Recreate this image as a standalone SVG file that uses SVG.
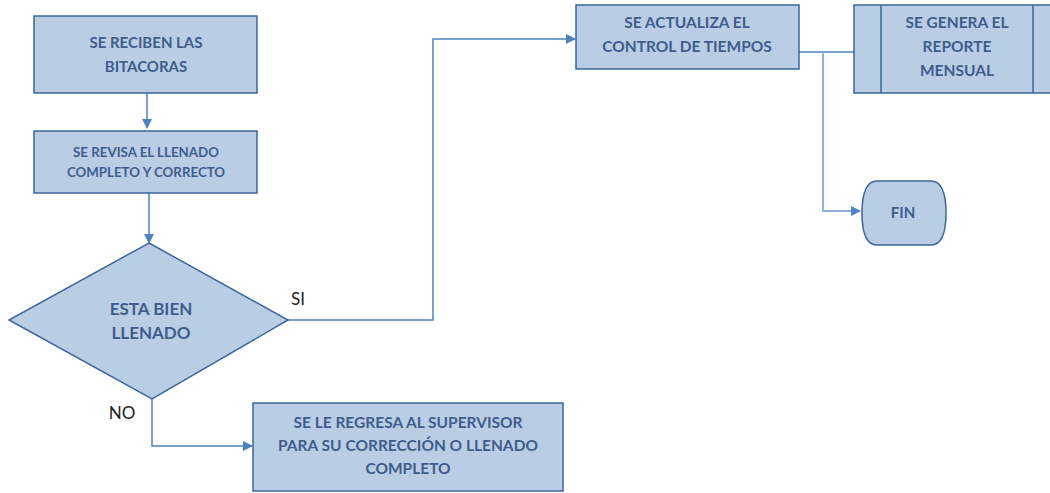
<svg xmlns="http://www.w3.org/2000/svg" width="1050" height="493" viewBox="0 0 1050 493">
<style>
.n{fill:#b9cde5;stroke:#3d6699;stroke-width:1.5}
.t{font-family:Lato,"Open Sans","Liberation Sans",sans-serif;fill:#3f5d8c;text-anchor:middle;font-weight:bold}
.c{fill:none;stroke:#4f81bd;stroke-width:1.5}
.cl{fill:none;stroke:#8fb0d8;stroke-width:2}
.lbl{font-family:Lato,"Open Sans","Liberation Sans",sans-serif;fill:#222;font-size:17px}
</style>
<defs>
<marker id="ah" markerWidth="10" markerHeight="10" refX="9" refY="5" orient="auto" markerUnits="userSpaceOnUse">
<path d="M0,0 L10,5 L0,10 z" fill="#4f81bd"/>
</marker>
</defs>
<rect width="1050" height="493" fill="#fff"/>
<g id="connectors">
<path class="c" d="M147,93 V128" marker-end="url(#ah)"/>
<path class="c" d="M149,193 V243" marker-end="url(#ah)"/>
<path class="c" d="M288,320 H433 V39 H575" marker-end="url(#ah)"/>
<path class="c" d="M152,399 V446 H252" marker-end="url(#ah)"/>
<path class="c" d="M799,52 H854"/>
<path class="cl" d="M823,52 V211 H860" marker-end="url(#ah)"/>
</g>
<g id="lbl-si"><text class="lbl" x="298" y="305" text-anchor="middle">SI</text></g>
<g id="lbl-no"><text class="lbl" x="122" y="419" text-anchor="middle">NO</text></g>
<g id="n1">
<rect class="n" x="34" y="16" width="223" height="77"/>
<text class="t" font-size="15" x="146" y="48">SE RECIBEN LAS</text>
<text class="t" font-size="15" x="146" y="72">BITACORAS</text>
</g>
<g id="n2">
<rect class="n" x="34" y="131" width="223" height="62"/>
<text class="t" font-size="13.3" x="146" y="157">SE REVISA EL LLENADO</text>
<text class="t" font-size="13.3" x="146" y="177">COMPLETO Y CORRECTO</text>
</g>
<g id="n3">
<polygon class="n" points="149,243 288,320 152,399 9,320"/>
<text class="t" font-size="17" x="151" y="315">ESTA BIEN</text>
<text class="t" font-size="17" x="151" y="339">LLENADO</text>
</g>
<g id="n4">
<rect class="n" x="253" y="403" width="310" height="88"/>
<text class="t" font-size="15.5" x="408" y="428">SE LE REGRESA AL SUPERVISOR</text>
<text class="t" font-size="15.5" x="408" y="451">PARA SU CORRECCIÓN O LLENADO</text>
<text class="t" font-size="15.5" x="408" y="474">COMPLETO</text>
</g>
<g id="n5">
<rect class="n" x="576" y="5" width="223" height="64"/>
<text class="t" font-size="15.5" x="687" y="28">SE ACTUALIZA EL</text>
<text class="t" font-size="15.5" x="687" y="52">CONTROL DE TIEMPOS</text>
</g>
<g id="n6">
<rect class="n" x="854" y="5" width="206" height="88"/>
<line class="n" x1="881" y1="5" x2="881" y2="93"/>
<line class="n" x1="1033" y1="5" x2="1033" y2="93"/>
<text class="t" font-size="15.5" x="957" y="28">SE GENERA EL</text>
<text class="t" font-size="15.5" x="957" y="52">REPORTE</text>
<text class="t" font-size="15.5" x="957" y="76">MENSUAL</text>
</g>
<g id="n7">
<path class="n" d="M877,181 H931 Q946,181 946,213 Q946,245 931,245 H877 Q862,245 862,213 Q862,181 877,181 Z"/>
<text class="t" font-size="15" x="903" y="218">FIN</text>
</g>
</svg>
